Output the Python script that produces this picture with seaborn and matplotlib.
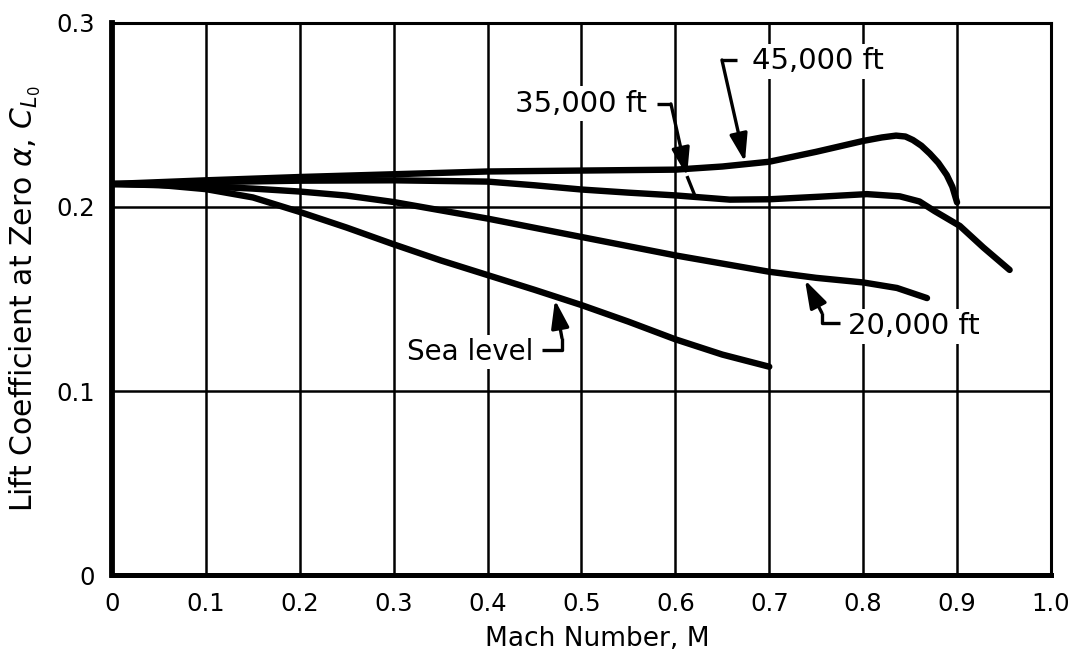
import matplotlib
matplotlib.use("Agg")
import matplotlib.pyplot as plt
import numpy as np
import pandas as pd
import seaborn as sns

# Lift coefficient at zero angle of attack versus Mach number, by altitude
mach_sea = [0.0, 0.05, 0.1, 0.15, 0.2, 0.25, 0.3, 0.35, 0.4, 0.45, 0.5, 0.55, 0.6, 0.65, 0.7]
cl_sea = [0.2125, 0.2120, 0.2097, 0.2052, 0.1973, 0.1888, 0.1797, 0.1710, 0.1630,
          0.1550, 0.1467, 0.1377, 0.1281, 0.1198, 0.1132]

mach_20k = [0.0, 0.1, 0.15, 0.2, 0.25, 0.3, 0.35, 0.4, 0.5, 0.6, 0.7, 0.75, 0.8,
            0.836, 0.868]
cl_20k = [0.2125, 0.2112, 0.2100, 0.2084, 0.2062, 0.2027, 0.1982, 0.1937, 0.1837,
          0.1737, 0.1648, 0.1615, 0.1590, 0.1560, 0.1505]

mach_35k = [0.0, 0.1, 0.2, 0.3, 0.4, 0.45, 0.5, 0.55, 0.6, 0.658, 0.7, 0.754, 0.804,
            0.839, 0.86, 0.876, 0.903, 0.928, 0.956]
cl_35k = [0.2125, 0.2135, 0.2143, 0.2145, 0.2138, 0.2118, 0.2095, 0.2078, 0.2063,
          0.2040, 0.2042, 0.2056, 0.2070, 0.2058, 0.2030, 0.1978, 0.1897, 0.1780, 0.1658]

mach_45k = [0.0, 0.1, 0.2, 0.3, 0.4, 0.5, 0.6, 0.65, 0.7, 0.75, 0.8, 0.82, 0.835,
            0.845, 0.853, 0.862, 0.871, 0.88, 0.889, 0.895, 0.9]
cl_45k = [0.2125, 0.2145, 0.2163, 0.2178, 0.2193, 0.2198, 0.2203, 0.2220, 0.2246,
          0.2300, 0.2359, 0.2378, 0.2388, 0.2383, 0.2364, 0.2333, 0.2290, 0.2240,
          0.2174, 0.2110, 0.2025]

altitudes = ["Sea level", "20,000 ft", "35,000 ft", "45,000 ft"]
x_ticks = [0.0, 0.1, 0.2, 0.3, 0.4, 0.5, 0.6, 0.7, 0.8, 0.9, 1.0]
x_tick_labels = ["0", "0.1", "0.2", "0.3", "0.4", "0.5", "0.6", "0.7", "0.8", "0.9", "1.0"]
y_ticks = [0.0, 0.1, 0.2, 0.3]
y_tick_labels = ["0", "0.1", "0.2", "0.3"]

frames = []
for name, m, c in zip(altitudes, [mach_sea, mach_20k, mach_35k, mach_45k],
                      [cl_sea, cl_20k, cl_35k, cl_45k]):
    frames.append(pd.DataFrame({"mach": m, "cl": c, "altitude": name}))
data = pd.concat(frames, ignore_index=True)

sns.set_theme(style="white")
plt.rcParams["font.family"] = ["DejaVu Sans"]
plt.rcParams["mathtext.fontset"] = "dejavusans"
plt.rcParams["text.color"] = "black"
plt.rcParams["axes.labelcolor"] = "black"
plt.rcParams["xtick.color"] = "black"
plt.rcParams["ytick.color"] = "black"

fig = plt.figure(figsize=(10.8, 6.51), dpi=100)
ax = fig.add_axes([0.1037, 0.1167, 0.9731 - 0.1037, 0.9647 - 0.1167])

# grid drawn by hand: every 0.1 in Mach, every 0.1 in C_L
for xv in x_ticks[1:-1]:
    ax.axvline(xv, color="black", lw=1.8, zorder=1)
for yv in y_ticks[1:-1]:
    ax.axhline(yv, color="black", lw=1.8, zorder=1)

sns.lineplot(data=data, x="mach", y="cl", units="altitude", estimator=None,
             sort=False, color="black", lw=4.6, ax=ax, zorder=5, legend=False,
             solid_capstyle="round", solid_joinstyle="round")

ax.set_xlim(0, 1.0)
ax.set_ylim(0, 0.3)
ax.set_xticks(x_ticks)
ax.set_xticklabels(x_tick_labels, fontsize=17.5)
ax.set_yticks(y_ticks)
ax.set_yticklabels(y_tick_labels, fontsize=17.5)
ax.tick_params(length=0, pad=12)
ax.set_xlabel("Mach Number, M", fontsize=19)
ax.xaxis.set_label_coords(0.517, -0.092)
ax.set_ylabel(r"Lift Coefficient at Zero $\alpha$, $C_{L_0}$", fontsize=21.5)
ax.yaxis.set_label_coords(-0.074, 0.5)

for side, w in [("left", 4.2), ("bottom", 3.6), ("top", 2.2), ("right", 2.2)]:
    ax.spines[side].set_visible(True)
    ax.spines[side].set_color("black")
    ax.spines[side].set_linewidth(w)

box = dict(facecolor="white", edgecolor="none", pad=2.5)
arrow = dict(arrowstyle="-|>,head_length=0.5,head_width=0.16", color="black",
             lw=2.4, shrinkA=0, shrinkB=0, mutation_scale=34)
lead = dict(color="black", lw=2.4, solid_capstyle="butt", zorder=4)

# 45,000 ft label
ax.text(0.6816, 0.2793, "45,000 ft", fontsize=21, ha="left", va="center",
        bbox=box, zorder=3)
ax.plot([0.6656, 0.6496], [0.2799, 0.2799], **lead)
ax.annotate("", xy=(0.6741, 0.2245), xytext=(0.6496, 0.2799),
            arrowprops=arrow, zorder=6)

# 35,000 ft label
ax.text(0.5698, 0.2560, "35,000 ft", fontsize=21, ha="right", va="center",
        bbox=box, zorder=3)
ax.plot([0.5804, 0.5953], [0.2560, 0.2560], **lead)
ax.annotate("", xy=(0.6124, 0.2168), xytext=(0.5953, 0.2560),
            arrowprops=arrow, zorder=6)
ax.plot([0.6124, 0.6209], [0.2168, 0.2060], **lead)

# 20,000 ft label
ax.text(0.7838, 0.1353, "20,000 ft", fontsize=21, ha="left", va="center",
        bbox=box, zorder=3)
ax.plot([0.7753, 0.7561, 0.7561], [0.1370, 0.1370, 0.1424], **lead)
ax.annotate("", xy=(0.7380, 0.1603), xytext=(0.7561, 0.1424),
            arrowprops=arrow, zorder=6)

# Sea level label
ax.text(0.4484, 0.1212, "Sea level", fontsize=20, ha="right", va="center",
        bbox=box, zorder=3)
ax.plot([0.4579, 0.4792, 0.4792], [0.1223, 0.1223, 0.1288], **lead)
ax.annotate("", xy=(0.4718, 0.1495), xytext=(0.4792, 0.1288),
            arrowprops=arrow, zorder=6)

fig.savefig("out.png", dpi=100, facecolor="white")
